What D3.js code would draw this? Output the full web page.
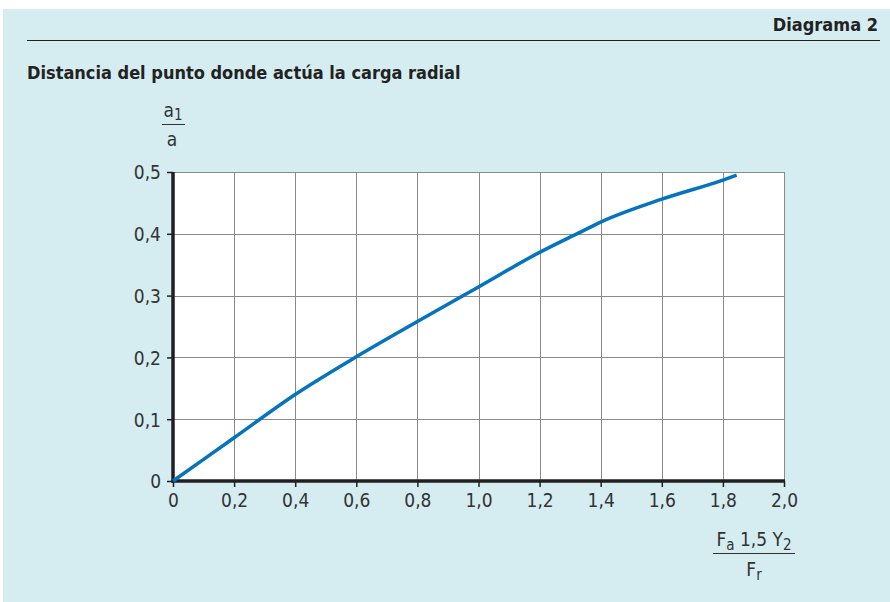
<!DOCTYPE html>
<html>
<head>
<meta charset="utf-8">
<script src="https://cdn.jsdelivr.net/npm/d3@7"></script>
<style>
  body { margin: 0; background: #fff; }
  svg { display: block; }
  .tick text { font-family: "DejaVu Sans Condensed", "DejaVu Sans", sans-serif; font-size: 19px; fill: #333; }
  .lbl { font-family: "DejaVu Sans Condensed", "DejaVu Sans", sans-serif; fill: #333; }
  .ttl { font-family: "DejaVu Sans Condensed", "DejaVu Sans", sans-serif; font-weight: bold; fill: #222; }
</style>
</head>
<body>
<svg width="890" height="602"></svg>
<script>
// Data
var ratioX = [0, 0.2, 0.4, 0.6, 0.8, 1.0, 1.2, 1.33, 1.4, 1.6, 1.8, 1.845];
var ratioY = [0, 0.07, 0.14, 0.201, 0.258, 0.314, 0.37, 0.402, 0.419, 0.456, 0.487, 0.495];
var xTicks = [0, 0.2, 0.4, 0.6, 0.8, 1.0, 1.2, 1.4, 1.6, 1.8, 2.0];
var yTicks = [0, 0.1, 0.2, 0.3, 0.4, 0.5];

var svg = d3.select("svg"),
    margin = {top: 172, left: 173},
    width = 611,
    height = 309;

// panel background
svg.append("rect")
  .attr("x", 3).attr("y", 9)
  .attr("width", 887).attr("height", 593)
  .attr("fill", "#d5edf1");

// header
svg.append("text")
  .attr("class", "ttl")
  .attr("x", 878).attr("y", 31)
  .attr("text-anchor", "end")
  .style("font-size", "18px")
  .text("Diagrama 2");
svg.append("line")
  .attr("x1", 27).attr("x2", 880)
  .attr("y1", 40.5).attr("y2", 40.5)
  .attr("stroke", "#222").attr("stroke-width", 1.2);
svg.append("text")
  .attr("class", "ttl")
  .attr("x", 27).attr("y", 79)
  .style("font-size", "18px")
  .text("Distancia del punto donde actúa la carga radial");

var g = svg.append("g")
  .attr("transform", "translate(" + margin.left + "," + margin.top + ")");

var x = d3.scaleLinear().domain([0, 2]).range([0, width]),
    y = d3.scaleLinear().domain([0, 0.5]).range([height, 0]);

var fmt = function(d) { return d === 0 ? "0" : d3.format(".1f")(d).replace(".", ","); };

g.append("rect")
  .attr("width", width).attr("height", height)
  .attr("fill", "#fff");

// grid
g.selectAll(".vgrid")
  .data(xTicks.slice(1))
  .enter().append("line")
    .attr("class", "vgrid")
    .attr("x1", function(d) { return Math.round(x(d)) + 0.5; })
    .attr("x2", function(d) { return Math.round(x(d)) + 0.5; })
    .attr("y1", 0).attr("y2", height)
    .attr("stroke", "#8a8a8a");
g.selectAll(".hgrid")
  .data(yTicks.slice(1))
  .enter().append("line")
    .attr("class", "hgrid")
    .attr("y1", function(d) { return Math.round(y(d)) + 0.5; })
    .attr("y2", function(d) { return Math.round(y(d)) + 0.5; })
    .attr("x1", 0).attr("x2", width)
    .attr("stroke", "#8a8a8a");

// axes
var xAxis = g.append("g")
  .attr("transform", "translate(0," + height + ")")
  .call(d3.axisBottom(x).tickValues(xTicks).tickFormat(fmt).tickSize(6).tickPadding(7));
xAxis.select(".domain").remove();
xAxis.selectAll(".tick line").attr("stroke", "#231f20").attr("stroke-width", 1.5);

var yAxis = g.append("g")
  .call(d3.axisLeft(y).tickValues(yTicks).tickFormat(fmt).tickSize(6).tickPadding(6));
yAxis.select(".domain").remove();
yAxis.selectAll(".tick line").attr("stroke", "#231f20").attr("stroke-width", 1.5);
yAxis.selectAll(".tick text").attr("dy", "0.36em");

g.append("line")
  .attr("x1", -1.5).attr("x2", width + 1)
  .attr("y1", height).attr("y2", height)
  .attr("stroke", "#231f20").attr("stroke-width", 3.5);
g.append("line")
  .attr("x1", 0).attr("x2", 0)
  .attr("y1", 0).attr("y2", height + 1.5)
  .attr("stroke", "#231f20").attr("stroke-width", 3.5);

// curve
var pts = ratioX.map(function(d, i) { return [d, ratioY[i]]; });
g.append("path")
  .datum(pts)
  .attr("fill", "none")
  .attr("stroke", "#0573bd")
  .attr("stroke-width", 3.5)
  .attr("d", d3.line()
    .x(function(d) { return x(d[0]); })
    .y(function(d) { return y(d[1]); })
    .curve(d3.curveMonotoneX));

// y label a1/a
var ya = svg.append("g").attr("class", "lbl").style("font-size", "19px");
ya.append("text").attr("x", 173).attr("y", 117).attr("text-anchor", "middle")
  .html('a<tspan dy="3" font-size="15">1</tspan>');
ya.append("line").attr("x1", 162).attr("x2", 185).attr("y1", 124.5).attr("y2", 124.5)
  .attr("stroke", "#333").attr("stroke-width", 1);
ya.append("text").attr("x", 172).attr("y", 146).attr("text-anchor", "middle").text("a");

// x label Fa 1,5 Y2 / Fr
var xa = svg.append("g").attr("class", "lbl").style("font-size", "19px");
xa.append("text").attr("x", 754).attr("y", 546).attr("text-anchor", "middle")
  .html('F<tspan dy="4" font-size="15">a</tspan><tspan dy="-4"> 1,5 Y</tspan><tspan dy="4" font-size="15">2</tspan>');
xa.append("line").attr("x1", 713).attr("x2", 795).attr("y1", 553.5).attr("y2", 553.5)
  .attr("stroke", "#333").attr("stroke-width", 1);
xa.append("text").attr("x", 754).attr("y", 576).attr("text-anchor", "middle")
  .html('F<tspan dy="4" font-size="15">r</tspan>');
</script>
</body>
</html>
